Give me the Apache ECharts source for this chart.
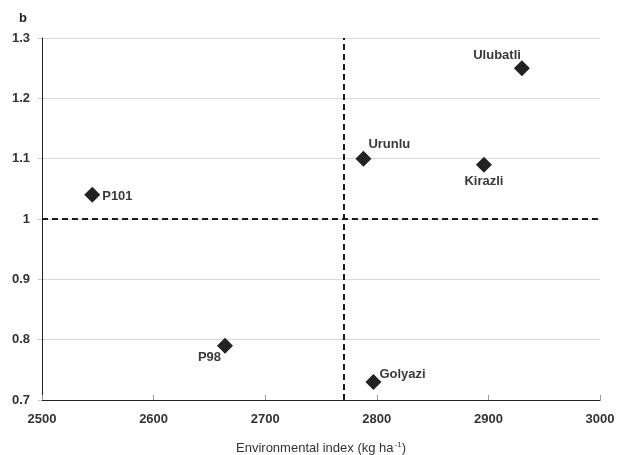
<!DOCTYPE html>
<html>
<head>
<meta charset="utf-8">
<script src="https://cdn.jsdelivr.net/npm/echarts@6/dist/echarts.min.js"></script>
<style>
  html, body { margin: 0; padding: 0; background: #fff; }
  #chart { width: 618px; height: 455px; }
</style>
</head>
<body>
<div id="chart"></div>
<script>
// Site names with their environmental index and b coefficient
const sites = ['P101', 'P98', 'Urunlu', 'Golyazi', 'Kirazli', 'Ulubatli'];
const envIndex = [2545, 2664, 2788, 2797, 2896, 2930];
const bValues = [1.04, 0.79, 1.10, 0.73, 1.09, 1.25];

// Reference lines splitting the plot into quadrants
const meanEnvIndex = 2770;
const bReference = 1;

// Axis ranges
const xMin = 2500, xMax = 3000, xStep = 100;
const yMin = 0.7, yMax = 1.3, yStep = 0.1;

// Label placement for each site name around its marker
const labelPlacement = {
  P101: { position: 'right', distance: 2, offset: [0, 2] },
  P98: { position: 'left', distance: 0, offset: [4, 12] },
  Urunlu: { position: 'right', distance: 0, offset: [-3, -14] },
  Golyazi: { position: 'right', distance: 0, offset: [-2, -7] },
  Kirazli: { position: 'bottom', distance: 2, offset: [0, 0] },
  Ulubatli: { position: 'left', distance: 0, offset: [7, -13] }
};

const points = sites.map((name, i) => ({
  name: name,
  value: [envIndex[i], bValues[i]],
  label: labelPlacement[name]
}));

const chart = echarts.init(document.getElementById('chart'));

chart.setOption({
  animation: false,
  backgroundColor: '#ffffff',
  textStyle: { fontFamily: '"Liberation Sans", Arial, sans-serif' },
  graphic: [{
    type: 'text',
    left: 19,
    top: 12,
    style: { text: 'b', font: 'bold 13px "Liberation Sans", Arial, sans-serif', fill: '#222' }
  }],
  grid: { left: 42, right: 18, top: 38, bottom: 55, outerBoundsMode: 'none', containLabel: false },
  xAxis: {
    type: 'value',
    min: xMin,
    max: xMax,
    interval: xStep,
    name: 'Environmental index (kg ha{sup|-1})',
    nameLocation: 'middle',
    nameGap: 41,
    nameTextStyle: {
      fontSize: 13,
      color: '#333',
      rich: { sup: { fontSize: 8, verticalAlign: 'top', padding: [0, 0, 7, 1], color: '#333' } }
    },
    axisLine: { show: true, lineStyle: { color: '#222', width: 1 } },
    axisTick: { show: true, inside: true, length: 5, lineStyle: { color: '#999' } },
    axisLabel: {
      fontSize: 13,
      fontWeight: 'bold',
      color: '#333',
      margin: 13,
      formatter: v => String(v)
    },
    splitLine: { show: false }
  },
  yAxis: {
    type: 'value',
    min: yMin,
    max: yMax,
    interval: yStep,
    axisLine: { show: true, lineStyle: { color: '#222', width: 1 } },
    axisTick: { show: true, length: 4, lineStyle: { color: '#ccc' } },
    axisLabel: {
      fontSize: 13,
      fontWeight: 'bold',
      color: '#333',
      margin: 12,
      formatter: v => String(parseFloat(v.toFixed(1)))
    },
    splitLine: { show: true, lineStyle: { color: '#d9d9d9', width: 1 } }
  },
  series: [{
    type: 'scatter',
    symbol: 'diamond',
    symbolSize: 16,
    itemStyle: { color: '#222', opacity: 1 },
    label: {
      show: true,
      formatter: '{b}',
      fontSize: 13,
      fontWeight: 'bold',
      color: '#3a3a3a'
    },
    data: points,
    markLine: {
      silent: true,
      symbol: 'none',
      label: { show: false },
      lineStyle: { color: '#1a1a1a', type: [6, 4], width: 2 },
      data: [
        { xAxis: meanEnvIndex },
        { yAxis: bReference }
      ]
    },
    z: 3
  }]
});
</script>
</body>
</html>
